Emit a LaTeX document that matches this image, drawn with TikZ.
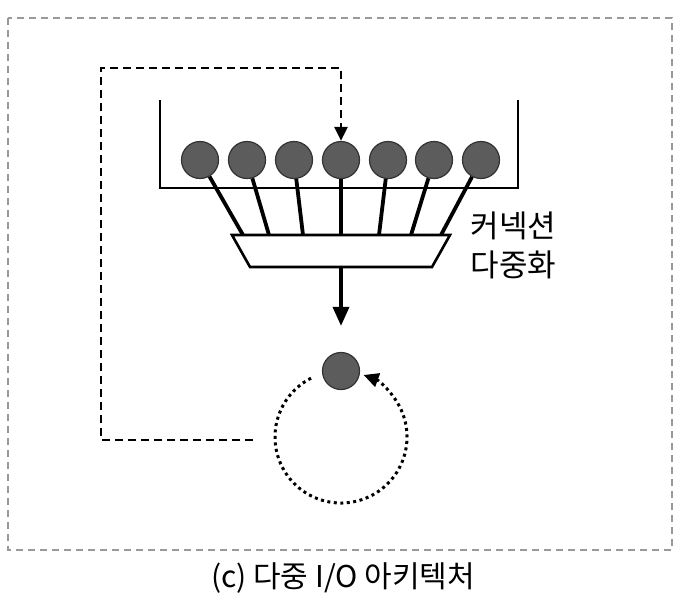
\documentclass[tikz,border=0pt]{standalone}
\usepackage{fontspec}
\newfontfamily\krfont{Noto Sans CJK KR}
\usetikzlibrary{arrows.meta}

\begin{document}
\begin{tikzpicture}[x=1pt, y=-1pt,
    conn/.style = {circle, draw=black!80, fill=black!64, line width=1.2pt, minimum size=37pt, inner sep=0pt},
    wire/.style = {line width=3.8pt},
    muxline/.style = {line width=2.6pt, fill=white, line join=miter},
    fb/.style = {line width=2.8pt, dash pattern=on 8pt off 5pt, -{Triangle[length=14pt,width=13pt]}},
    loopline/.style = {line width=3pt, dash pattern=on 3pt off 3.5pt, -{Triangle[length=15pt,width=14pt]}},
    lbl/.style = {font=\krfont\fontsize{31}{39}\selectfont}]

    \useasboundingbox (0,0) rectangle (683,611);

    % outer frame
    \draw[black!40, line width=1.3pt, dash pattern=on 7pt off 5pt] (8,18) rectangle (672,550);

    % queue box
    \draw[line width=2.8pt] (160,100) -- (160,188) -- (518,188) -- (518,100);

    \node[conn] (c1) at (200,160) {};
    \node[conn] (c2) at (247,160) {};
    \node[conn] (c3) at (294,160) {};
    \node[conn] (c4) at (341,160) {};
    \node[conn] (c5) at (388,160) {};
    \node[conn] (c6) at (434,160) {};
    \node[conn] (c7) at (481,160) {};

    % multiplexer
    \coordinate (mtl) at (232,235);
    \coordinate (mtr) at (450,235);
    \coordinate (mbr) at (432,267);
    \coordinate (mbl) at (250,267);
    \draw[muxline] (mtl) -- (mtr) -- (mbr) -- (mbl) -- cycle;
    \coordinate (mux) at (341,267);

    \coordinate (m1) at (243,235);
    \coordinate (m2) at (269,235);
    \coordinate (m3) at (303,235);
    \coordinate (m4) at (341,235);
    \coordinate (m5) at (379,235);
    \coordinate (m6) at (411,235);
    \coordinate (m7) at (441,235);

    \draw[wire] (c1) -- (m1);
    \draw[wire] (c2) -- (m2);
    \draw[wire] (c3) -- (m3);
    \draw[wire] (c4) -- (m4);
    \draw[wire] (c5) -- (m5);
    \draw[wire] (c6) -- (m6);
    \draw[wire] (c7) -- (m7);

    \node[lbl, align=left, anchor=west] (muxlabel) at (467,245) {커넥션\\다중화};

    \node[conn] (io) at (341,371) {};
    \draw[wire, line width=3.4pt, -{Triangle[length=19pt,width=16pt]}, shorten >=26pt] (mux) -- (io);

    % event loop
    \coordinate (loop) at (341,437);
    \draw[loopline] ([shift={(-117:66)}]loop) arc[start angle=-117, end angle=-430, radius=66];

    % feedback path
    \coordinate (fbstart) at (253,440);
    \coordinate (fbleft) at (101,440);
    \coordinate (fbtop) at (101,68);
    \coordinate (fbright) at (341,68);
    \draw[fb] (fbstart) -- (fbleft) -- (fbtop) -- (fbright) -- (c4);

    \node[lbl, font=\krfont\fontsize{30}{34}\selectfont] (caption) at (343,578) {(c) 다중 I/O 아키텍처};

\end{tikzpicture}
\end{document}
